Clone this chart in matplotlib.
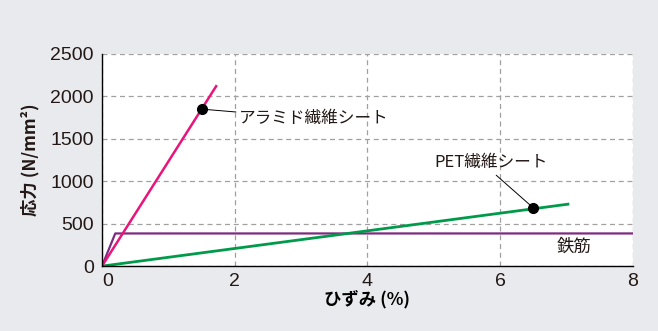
import matplotlib
matplotlib.use("Agg")
import matplotlib.pyplot as plt

# Data
aramid_x = [0, 1.72]
aramid_y = [0, 2120]
aramid_dot = (1.5, 1850)

pet_x = [0, 7.02]
pet_y = [0, 730]
pet_dot = (6.5, 685)

steel_x = [0, 0.2, 8]
steel_y = [0, 385, 385]

xticks = [0, 2, 4, 6, 8]
yticks = [0, 500, 1000, 1500, 2000, 2500]

label_aramid = "アラミド繊維シート"
label_pet = "PET繊維シート"
label_steel = "鉄筋"
xlabel = "ひずみ (%)"
ylabel = "応力 (N/mm²)"

bg = "#e9eaee"
txt = "#231815"
jp = ["Noto Sans CJK JP", "DejaVu Sans"]
num = ["Liberation Sans", "DejaVu Sans"]

fig = plt.figure(figsize=(6.58, 3.31), dpi=100, facecolor=bg)
ax = fig.add_axes([0.155, 0.196, 0.807, 0.641])
ax.set_facecolor("white")

ax.plot(steel_x, steel_y, color="#7d2b80", lw=1.6, zorder=3)
ax.plot(pet_x, pet_y, color="#009a4a", lw=2.0, zorder=3)
ax.plot(aramid_x, aramid_y, color="#e8157a", lw=1.8, zorder=4)

ax.plot(*aramid_dot, "o", color="black", ms=7, zorder=6)
ax.plot(*pet_dot, "o", color="black", ms=7, zorder=6)

ax.annotate(label_aramid, xy=aramid_dot, xytext=(2.06, 1740),
            ha="left", va="center", fontsize=12, color=txt, family=jp,
            arrowprops=dict(arrowstyle="-", color="black", lw=0.7, shrinkA=0, shrinkB=0),
            zorder=5)
ax.annotate(label_pet, xy=pet_dot, xytext=(5.86, 1226),
            ha="center", va="center", fontsize=12, color=txt, family=jp,
            arrowprops=dict(arrowstyle="-", color="black", lw=0.7, shrinkA=2, shrinkB=0,
                            relpos=(0.5, 0.0)),
            zorder=5)
ax.text(7.11, 223, label_steel, ha="center", va="center", fontsize=12.5, color=txt, family=jp)

ax.set_xlim(0, 8)
ax.set_ylim(0, 2500)
ax.set_xticks(xticks)
ax.set_yticks(yticks)
ax.set_xticklabels([str(v) for v in xticks], family=num, fontsize=14, color=txt)
ax.set_yticklabels([str(v) for v in yticks], family=num, fontsize=14, color=txt)
ax.get_xticklabels()[0].set_ha("left")
ax.tick_params(length=0, pad=6)
ax.tick_params(axis="x", pad=5)

ax.grid(True, color="#a0a0a0", ls=(0, (4, 3)), lw=0.9, zorder=0)
ax.set_axisbelow(True)
for s in ["top", "right"]:
    ax.spines[s].set_visible(False)
for s in ["left", "bottom"]:
    ax.spines[s].set_color("black")
    ax.spines[s].set_linewidth(1.0)
    ax.spines[s].set_zorder(7)

ax.set_xlabel(xlabel, family=jp, fontsize=12.5, fontweight="bold", color="black", labelpad=0)
ax.set_ylabel(ylabel, family=jp, fontsize=12.5, fontweight="bold", color=txt, labelpad=8)

fig.savefig("out.png", dpi=100, facecolor=bg)
